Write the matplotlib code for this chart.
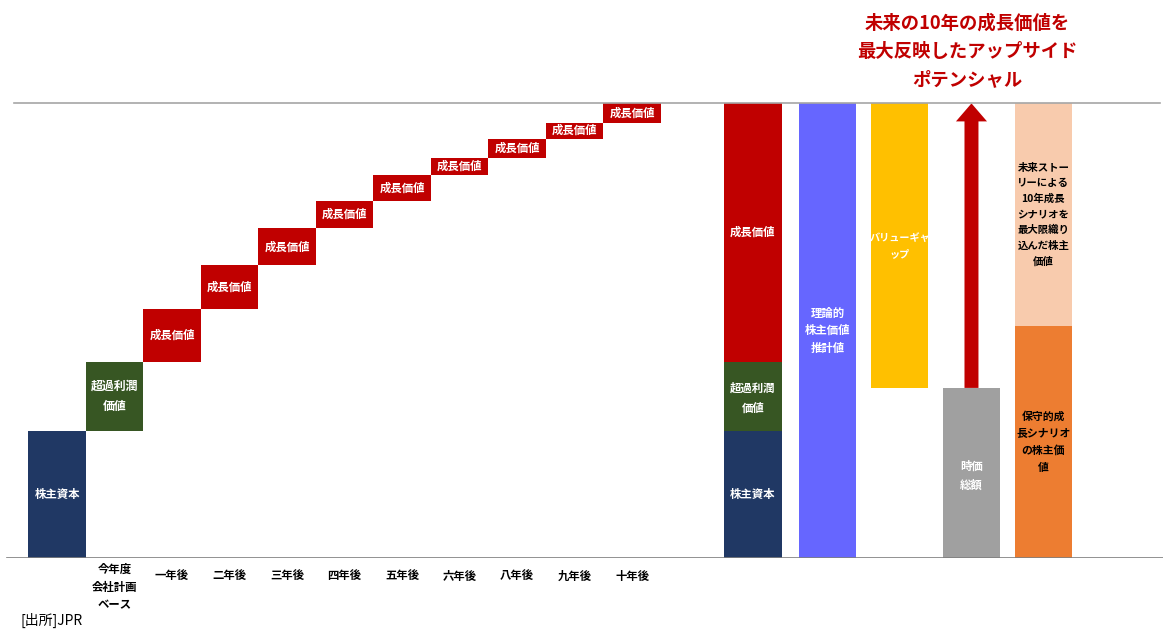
import matplotlib.pyplot as plt
from matplotlib.patches import FancyArrow

plt.rcParams['font.family'] = ['Noto Sans CJK JP', 'DejaVu Sans']

# Waterfall increments (share of theoretical value, %)
step_labels = ['株主資本', '超過利潤\n価値'] + ['成長価値'] * 9
step_values = [27.9, 15.1, 11.6, 9.6, 8.1, 6.1, 5.5, 3.9, 4.2, 3.5, 4.2]
tick_labels = ['', '今年度\n会社計画\nベース', '一年後', '二年後', '三年後', '四年後',
               '五年後', '六年後', '八年後', '九年後', '十年後']

market_cap = 37.3
conservative_value = 50.9

colors = {
    'equity': '#203864', 'excess': '#375623', 'growth': '#c00000',
    'theory': '#6666ff', 'gap': '#ffc000', 'cap': '#a0a0a0',
    'upside': '#f8cbad', 'conservative': '#ed7d31',
}

fig = plt.figure(figsize=(11.63, 6.29), dpi=100)
ax = fig.add_axes([0, 0.1129, 1, 0.7249])
ax.set_xlim(-0.991, 19.23)
ax.set_ylim(0, 100)
ax.axis('off')

# Left waterfall
bottom = 0
for i, (lab, val) in enumerate(zip(step_labels, step_values)):
    c = colors['equity'] if i == 0 else colors['excess'] if i == 1 else colors['growth']
    ax.bar(i, val, bottom=bottom, width=1.0, color=c, linewidth=0)
    fs = 8.6 if i == 1 else 8.2
    ax.text(i, bottom + val / 2, lab, ha='center', va='center', color='white',
            fontsize=fs, fontweight='bold', linespacing=1.7)
    bottom += val
total = bottom

for i, lab in enumerate(tick_labels):
    if not lab:
        continue
    y = -6.4 if '\n' in lab else -3.95
    ax.text(i, y, lab, ha='center', va='center', fontsize=8.2,
            fontweight='bold', color='black', linespacing=1.45, clip_on=False)

# Right side bars
x_stack, x_theory, x_gap, x_cap, x_scn = 12.1, 13.4, 14.65, 15.9, 17.15
equity, excess = step_values[0], step_values[1]
growth = total - equity - excess
ax.bar(x_stack, equity, width=1.0, color=colors['equity'], linewidth=0)
ax.bar(x_stack, excess, bottom=equity, width=1.0, color=colors['excess'], linewidth=0)
ax.bar(x_stack, growth, bottom=equity + excess, width=1.0, color=colors['growth'], linewidth=0)
ax.text(x_stack, equity / 2, '株主資本', ha='center', va='center', color='white',
        fontsize=8.2, fontweight='bold')
ax.text(x_stack, equity + excess / 2 - 0.5, '超過利潤\n価値', ha='center', va='center',
        color='white', fontsize=8.2, fontweight='bold', linespacing=1.7)
ax.text(x_stack, equity + excess + growth / 2, '成長価値', ha='center', va='center',
        color='white', fontsize=8.2, fontweight='bold')

ax.bar(x_theory, total, width=1.0, color=colors['theory'], linewidth=0)
ax.text(x_theory, total / 2, '理論的\n株主価値\n推計値', ha='center', va='center',
        color='white', fontsize=8.2, fontweight='bold', linespacing=1.45)

ax.bar(x_gap, total - market_cap, bottom=market_cap, width=1.0, color=colors['gap'], linewidth=0)
ax.text(x_gap, (total + market_cap) / 2, 'バリューギャ\nップ', ha='center', va='center',
        color='white', fontsize=7.3, fontweight='bold', linespacing=1.75)

ax.bar(x_cap, market_cap, width=1.0, color=colors['cap'], linewidth=0)
ax.text(x_cap, market_cap / 2 - 0.6, '時価\n総額', ha='center', va='center',
        color='white', fontsize=8.2, fontweight='bold', linespacing=1.65)

ax.bar(x_scn, conservative_value, width=1.0, color=colors['conservative'], linewidth=0)
ax.bar(x_scn, total - conservative_value, bottom=conservative_value, width=1.0,
       color=colors['upside'], linewidth=0)
ax.text(x_scn, conservative_value / 2, '保守的成\n長シナリオ\nの株主価\n値', ha='center',
        va='center', color='black', fontsize=7.8, fontweight='bold', linespacing=1.8)
ax.text(x_scn, (total + conservative_value) / 2, '未来ストー\nリーによる\n10年成長\nシナリオを\n最大限織り\n込んだ株主\n価値',
        ha='center', va='center', color='black', fontsize=7.5, fontweight='bold', linespacing=1.68)

# Upside arrow
ax.add_patch(FancyArrow(x_cap, market_cap, 0, total - market_cap, width=0.243,
                        head_width=0.54, head_length=3.95, length_includes_head=True,
                        color=colors['growth'], linewidth=0))

# Reference lines
ax.axhline(total, xmin=14 / 1163, xmax=1160 / 1163, color='#a6a6a6', lw=1.2, zorder=3)
ax.axhline(0, xmin=7 / 1163, xmax=1.0, color='#7f7f7f', lw=1.2, zorder=3)

# Headline
for k, line in enumerate(['未来の10年の成長価値を', '最大反映したアップサイド', 'ポテンシャル']):
    ax.text(x_cap - 0.07, 117.2 - k * 6.1, line, ha='center', va='center', color='#c00000',
            fontsize=13.2, fontweight='bold', clip_on=False)

fig.text(20 / 1163, 9 / 629, '[出所]JPR', ha='left', va='center', fontsize=10, color='black')

fig.savefig('out.png', dpi=100)
